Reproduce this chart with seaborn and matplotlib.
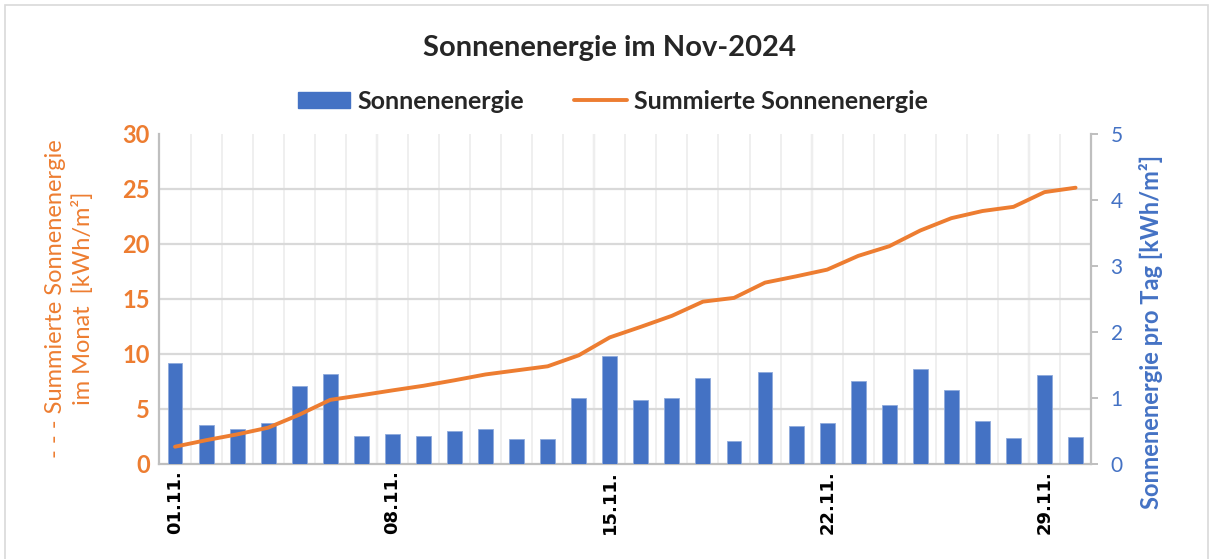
import numpy as np
import pandas as pd
import matplotlib
matplotlib.use("Agg")
import matplotlib.pyplot as plt
import seaborn as sns
from matplotlib.ticker import FixedLocator
from matplotlib.patches import Patch, Rectangle
from matplotlib.lines import Line2D

# ---- data ----
days = [f"{d:02d}.11." for d in range(1, 31)]
daily = [1.53, 0.59, 0.53, 0.61, 1.18, 1.35, 0.42, 0.44, 0.42, 0.50,
         0.53, 0.37, 0.37, 1.00, 1.63, 0.96, 1.00, 1.29, 0.34, 1.39,
         0.57, 0.61, 1.25, 0.88, 1.43, 1.12, 0.65, 0.38, 1.34, 0.40]
cumulative = [1.53, 2.12, 2.65, 3.26, 4.44, 5.79, 6.21, 6.65, 7.07, 7.57,
              8.10, 8.47, 8.84, 9.84, 11.47, 12.43, 13.43, 14.72, 15.06, 16.45,
              17.02, 17.63, 18.88, 19.76, 21.19, 22.31, 22.96, 23.34, 24.68, 25.08]
shown_labels = ["01.11.", "08.11.", "15.11.", "22.11.", "29.11."]

title = "Sonnenenergie im Nov-2024"
bar_name = "Sonnenenergie"
line_name = "Summierte Sonnenenergie"
left_label = "- - - Summierte Sonnenenergie\nim Monat  [kWh/m²]"
right_label = "Sonnenenergie pro Tag [kWh/m²]"

df = pd.DataFrame({"Tag": days, "daily": daily, "cum": cumulative})

BLUE = "#4472C4"
ORANGE = "#ED7D31"
GRID = "#D9D9D9"
GRID_MINOR = "#EFEFEF"

sns.set_theme(style="white")
plt.rcParams["font.family"] = ["Lato", "DejaVu Sans"]

fig = plt.figure(figsize=(12.11, 5.59), dpi=100)
ax_bar = fig.add_axes([0.1317, 0.1708, 0.901 - 0.1317, 0.761 - 0.1708])
ax_line = ax_bar.twinx()

# ---- bars (right axis) ----
sns.barplot(data=df, x="Tag", y="daily", color=BLUE, width=0.48,
            edgecolor="#8FAADC", linewidth=0.6, saturation=1, ax=ax_bar, zorder=3)
ax_bar.set_ylim(0, 5)
ax_bar.set_xlim(-0.5, len(days) - 0.5)
ax_bar.yaxis.tick_right()
ax_bar.yaxis.set_label_position("right")
ax_bar.set_yticks(range(0, 6))
ax_bar.tick_params(axis="y", which="major", direction="out", length=5, width=1.4,
                   color="#BFBFBF", labelcolor=BLUE, labelsize=15, pad=9,
                   right=True, left=False, labelright=True, labelleft=False)
ax_bar.set_ylabel(right_label, color=BLUE, fontsize=17, fontweight="bold", labelpad=12)
ax_bar.yaxis.label.set_y(0.40)
ax_bar.set_xlabel("")

# horizontal grid at the left-axis steps
ax_bar.yaxis.set_minor_locator(FixedLocator(np.linspace(0, 5, 7)))
ax_bar.tick_params(axis="y", which="minor", length=0)
ax_bar.grid(which="minor", axis="y", color=GRID, linewidth=1.6, zorder=0)
ax_bar.grid(which="major", axis="y", visible=False)

# vertical grid between every day, darker every week
ax_bar.xaxis.set_minor_locator(FixedLocator(np.arange(-0.5, len(days), 1)))
ax_bar.grid(which="minor", axis="x", color=GRID_MINOR, linewidth=1.4, zorder=0)
for i in range(7, len(days), 7):
    ax_bar.axvline(i - 0.5, color=GRID, linewidth=1.6, zorder=0.5)
ax_bar.set_axisbelow(True)

ticks = [days.index(t) for t in shown_labels]
ax_bar.set_xticks(ticks)
ax_bar.set_xticklabels(shown_labels, rotation=90, fontweight="bold", fontsize=13,
                       color="black", family=["DejaVu Sans"])
ax_bar.tick_params(axis="x", which="both", length=0, pad=5)

ax_bar.spines["top"].set_visible(False)
for s in ["left", "bottom", "right"]:
    ax_bar.spines[s].set_color("#BFBFBF")
    ax_bar.spines[s].set_linewidth(1.6)

# ---- line (left axis) ----
sns.lineplot(data=df, x="Tag", y="cum", color=ORANGE, linewidth=2.8, ax=ax_line,
             sort=False, zorder=5)
ax_line.set_ylim(0, 30)
ax_line.set_xlim(-0.5, len(days) - 0.5)
ax_line.yaxis.tick_left()
ax_line.yaxis.set_label_position("left")
ax_line.set_yticks(range(0, 31, 5))
ax_line.tick_params(axis="y", length=0, labelcolor=ORANGE, labelsize=17, pad=7,
                    left=True, right=False, labelleft=True, labelright=False)
for lab in ax_line.get_yticklabels():
    lab.set_fontweight("bold")
ax_line.set_ylabel(left_label, color=ORANGE, fontsize=17, labelpad=20, linespacing=1.35)
ax_line.set_xlabel("")
for s in ax_line.spines.values():
    s.set_visible(False)
ax_line.grid(False)

# ---- title and legend ----
fig.text(0.503, 0.915, title, ha="center", va="center", fontsize=21, fontweight="bold")
handles = [Patch(facecolor=BLUE, edgecolor=BLUE, label=bar_name),
           Line2D([0], [0], color=ORANGE, linewidth=2.8, label=line_name)]
fig.legend(handles=handles, loc="center", bbox_to_anchor=(0.506, 0.819), ncol=2,
           frameon=False, handlelength=2.1, handleheight=0.6,
           columnspacing=2.0, handletextpad=0.3, prop={"weight": "bold", "size": 18})

# outer chart border
fig.patches.append(Rectangle((5 / 1211, -0.01), 1203 / 1211, 1 - 5 / 559 + 0.01,
                             transform=fig.transFigure, fill=False,
                             edgecolor="#D9D9D9", linewidth=1.2))

fig.savefig("out.png", dpi=100)
